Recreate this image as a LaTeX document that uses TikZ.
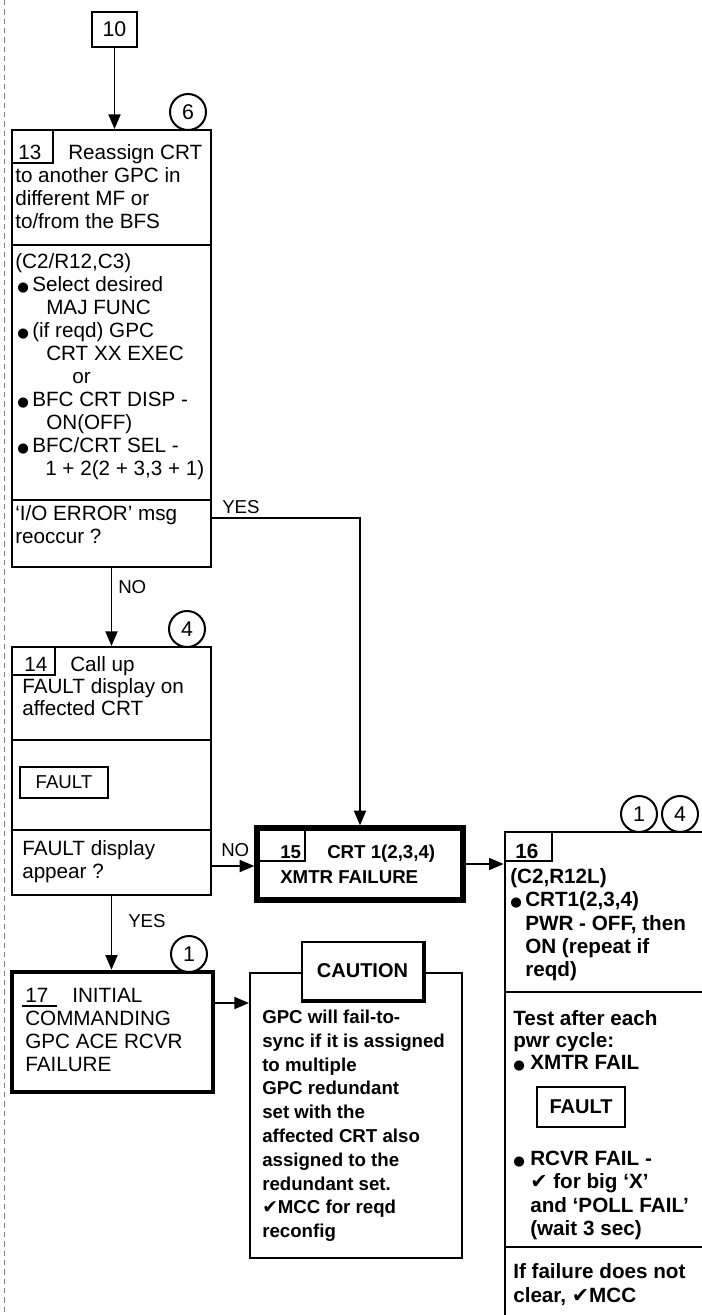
\documentclass[tikz,border=0pt]{standalone}
\usepackage{fontspec}
\setmainfont{Liberation Sans}
\newfontfamily\symfont{DejaVu Sans}
\usetikzlibrary{arrows.meta,fit}
\newcommand\bulmark[1]{\makebox[#1][l]{\symfont\fontsize{10}{10}\selectfont ●}}
\newcommand\chk{{\symfont ✔}}
\tikzset{
  box/.style={draw, line width=1.5pt, inner sep=0pt},
  heavybox/.style={draw, line width=4pt, inner sep=0pt},
  tx/.style={anchor=base west, inner sep=0pt, font=\fontsize{15.5}{18}\selectfont},
  txb/.style={anchor=base west, inner sep=0pt, font=\fontsize{15.5}{18}\selectfont\bfseries},
  txc/.style={anchor=base west, inner sep=0pt, font=\fontsize{14}{17}\selectfont\bfseries},
  lbl/.style={anchor=base west, inner sep=0pt, font=\fontsize{14}{17}\selectfont},
  mid/.style={anchor=center, inner sep=0pt},
  conn/.style={line width=1.4pt, -{Triangle[length=11pt,width=9pt]}},
  num/.style={draw, circle, line width=1.5pt, fill=white, minimum size=27pt, inner sep=0pt, font=\fontsize{16}{18}\selectfont},
  divider/.style={line width=1.5pt},
  tab/.style={line width=1.2pt}
}
\begin{document}
\begin{tikzpicture}[x=0.75pt,y=-0.75pt]
\useasboundingbox (0,0) rectangle (702,1315);
\clip (0,0) rectangle (702,1315);
\fill[white] (0,0) rectangle (702,1315);

% page edge
\draw[black!50, line width=0.6pt, dash pattern=on 4pt off 3pt] (4,0) -- (4,1315);

% ---------- box 10
\node[box, fit={(92,12) (137,47)}] (b10) {};
\node[mid, font=\fontsize{16}{18}\selectfont] (t10) at (b10.center) {10};

% ---------- box 13
\node[box, fit={(12,130) (211,567)}] (b13) {};
\draw[divider] (12,245) -- (211,245);
\draw[divider] (12,500) -- (211,500);
\draw[tab] (53,130) -- (53,163) -- (12,163);
\node[tx] (n13) at (18,159) {13};
\node[tx] (a1) at (68,159) {Reassign CRT};
\node[tx] (a2) at (15,182) {to another GPC in};
\node[tx] (a3) at (15,205) {different MF or};
\node[tx] (a4) at (15,228) {to/from the BFS};
\node[tx] (a5) at (15,268) {(C2/R12,C3)};
\node[tx] (a6) at (17,291) {\bulmark{11.25pt}Select desired};
\node[tx] (a7) at (46,314) {MAJ FUNC};
\node[tx] (a8) at (17,337) {\bulmark{11.25pt}(if reqd) GPC};
\node[tx] (a9) at (46,360) {CRT XX EXEC};
\node[tx] (a10) at (72,383) {or};
\node[tx] (a11) at (17,406) {\bulmark{11.25pt}BFC CRT DISP -};
\node[tx] (a12) at (46,429) {ON(OFF)};
\node[tx] (a13) at (17,452) {\bulmark{11.25pt}BFC/CRT SEL -};
\node[tx] (a14) at (45,475) {1 + 2(2 + 3,3 + 1)};
\node[tx] (a15) at (15,520) {`I/O ERROR' msg};
\node[tx] (a16) at (15,543) {reoccur ?};
\node[num] (c6) at (188,112) {6};

% ---------- box 14
\node[box, fit={(12,647) (211,895)}] (b14) {};
\draw[divider] (12,740) -- (211,740);
\draw[divider] (12,830) -- (211,830);
\draw[tab] (55,647) -- (55,675) -- (12,675);
\node[tx] (n14) at (24,671) {14};
\node[tx] (b1) at (70,671) {Call up};
\node[tx] (b2) at (22,693) {FAULT display on};
\node[tx] (b3) at (22,715) {affected CRT};
\node[box, line width=1.2pt, fit={(20,767) (108,798)}] (f14) {};
\node[mid, font=\fontsize{14}{16}\selectfont] (tf14) at (f14.center) {FAULT};
\node[tx] (b4) at (22,855) {FAULT display};
\node[tx] (b5) at (22,878) {appear ?};
\node[num] (c4a) at (187,629) {4};

% ---------- box 15
\node[heavybox, fit={(257,828) (463,900)}] (b15) {};
\draw[tab] (305,828) -- (305,861) -- (257,861);
\node[txc] (n15) at (280,858) {15};
\node[txc] (d1) at (327,858) {CRT 1(2,3,4)};
\node[txc] (d2) at (280,883) {XMTR FAILURE};

% ---------- box 16
\node[box, line width=2pt, fit={(505,832) (740,1360)}] (b16) {};
\draw[divider] (505,992) -- (702,992);
\draw[divider, line width=2pt] (505,1247) -- (702,1247);
\draw[tab] (552,832) -- (552,861) -- (505,861);
\node[txb] (n16) at (515,858) {16};
\node[txb] (e1) at (510,883) {(C2,R12L)};
\node[txb] (e2) at (510,906) {\bulmark{11.25pt}CRT1(2,3,4)};
\node[txb] (e3) at (525,930) {PWR - OFF, then};
\node[txb] (e4) at (525,953) {ON (repeat if};
\node[txb] (e5) at (525,976) {reqd)};
\node[txb] (e6) at (513,1025) {Test after each};
\node[txb] (e7) at (513,1047) {pwr cycle:};
\node[txb] (e8) at (513,1069) {\bulmark{12.75pt}XMTR FAIL};
\node[box, line width=1.5pt, fit={(537,1087) (625,1127)}] (f16) {};
\node[mid, font=\fontsize{15}{18}\selectfont\bfseries] (tf16) at (f16.center) {FAULT};
\node[txb] (e9) at (513,1165) {\bulmark{12.75pt}RCVR FAIL -};
\node[txb] (e10) at (530,1188) {\chk\ for big `X'};
\node[txb] (e11) at (530,1212) {and `POLL FAIL'};
\node[txb] (e12) at (530,1235) {(wait 3 sec)};
\node[txb] (e13) at (513,1278) {If failure does not};
\node[txb] (e14) at (513,1302) {clear, \chk MCC};
\node[num] (c1b) at (639,814) {1};
\node[num] (c4b) at (680,814) {4};

% ---------- box 17
\node[box, line width=3.5pt, fit={(12,972) (213,1092)}] (b17) {};
\draw[tab] (22,1006) -- (57,1006);
\node[tx] (n17) at (25,1002) {17};
\node[tx] (g1) at (72,1002) {INITIAL};
\node[tx] (g2) at (25,1025) {COMMANDING};
\node[tx] (g3) at (25,1048) {GPC ACE RCVR};
\node[tx] (g4) at (25,1071) {FAILURE};
\node[num] (c1a) at (189,954) {1};

% ---------- caution
\node[box, fit={(250,973) (462,1258)}] (caut) {};
\node[box, fill=white, fit={(302,942) (423,1000)}] (hdr) {};
\draw[line width=3pt] (hdr.south west) -- (hdr.south east) -- (hdr.north east);
\node[mid, font=\fontsize{15}{18}\selectfont\bfseries] (thdr) at (hdr.center) {CAUTION};
\node[txc] (h1) at (262,1023) {GPC will  fail-to-};
\node[txc] (h2) at (262,1047) {sync if it is assigned};
\node[txc] (h3) at (262,1071) {to multiple};
\node[txc] (h4) at (262,1094) {GPC redundant};
\node[txc] (h5) at (262,1118) {set with the};
\node[txc] (h6) at (262,1142) {affected CRT also};
\node[txc] (h7) at (262,1166) {assigned to the};
\node[txc] (h8) at (262,1190) {redundant set.};
\node[txc] (h9) at (262,1213) {\chk MCC for reqd};
\node[txc] (h10) at (262,1237) {reconfig};

% ---------- connectors
\draw[conn] (b10.south) -- (b10.south |- b13.north);
\coordinate (yes13) at (211,518);
\draw[conn] (yes13) -| (b15.north);
\node[lbl] (lyes13) at (222,513) {YES};
\draw[conn] (b13.south) -- (b14.north);
\node[lbl] (lno13) at (118,593) {NO};
\coordinate (no14) at (211,866);
\draw[conn] (no14) -- (no14 -| b15.west);
\node[lbl] (lno14) at (221,856) {NO};
\draw[conn] (b15.east) -- (b15.east -| b16.west);
\draw[conn] (b14.south) -- (b14.south |- b17.north);
\node[lbl] (lyes14) at (128,927) {YES};
\coordinate (r17) at (213,1003);
\draw[conn] (r17) -- (r17 -| caut.west);
\end{tikzpicture}
\end{document}
